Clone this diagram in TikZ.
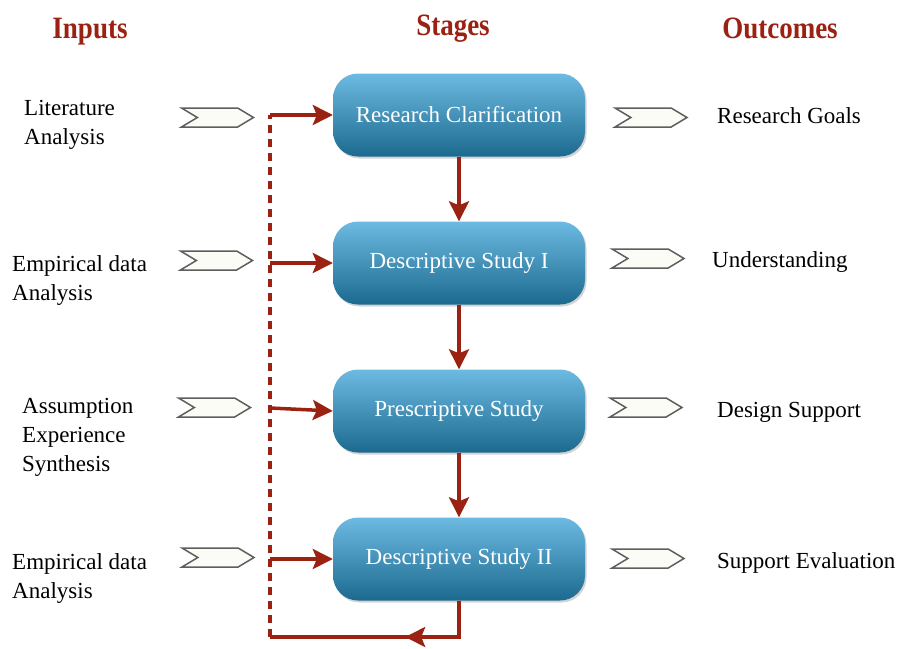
\documentclass[tikz,border=0pt]{standalone}
\usepackage{fontspec}
\setmainfont{Liberation Serif}
\usetikzlibrary{arrows.meta,shapes.symbols,shadows,decorations.markings}

\definecolor{rust}{HTML}{9B2213}
\definecolor{boxtop}{HTML}{6CBAE2}
\definecolor{boxbot}{HTML}{1D6A8F}
\definecolor{chevfill}{HTML}{FCFCF6}
\definecolor{chevline}{HTML}{5E5E5E}

\newcommand{\tallbold}[1]{\scalebox{1}[1.15]{#1}}

\tikzset{
  heading/.style={font=\bfseries\fontsize{27}{30}\selectfont, text=rust, inner sep=0pt, anchor=base},
  label/.style={font=\fontsize{23}{29}\selectfont, align=left, anchor=west, inner sep=0pt},
  stagebox/.style={rounded corners=25pt, minimum width=252pt, minimum height=83pt,
    top color=boxtop, bottom color=boxbot, text=white, inner sep=0pt,
    font=\fontsize{23}{27}\selectfont,
    drop shadow={opacity=0.35, shadow xshift=1.5pt, shadow yshift=-2pt}},
  chev/.style={signal, signal from=west, signal to=east, signal pointer angle=62,
    draw=chevline, fill=chevfill, line width=1.5pt, minimum width=72pt,
    minimum height=19pt, inner sep=0pt},
  tip/.style={-{Stealth[length=20pt,width=20pt,inset=4pt]}},
  flow/.style={draw=rust, line width=3.5pt, tip},
  loop/.style={draw=rust, line width=3.5pt, dash pattern=on 8pt off 6pt},
}

\begin{document}
\begin{tikzpicture}[x=1pt,y=-1pt]
\useasboundingbox (0,0) rectangle (902,648);

% column headings
\node[heading] (hin)  at (90,38)  {\tallbold{Inputs}};
\node[heading] (hst)  at (453,35) {\tallbold{Stages}};
\node[heading] (hout) at (780,38) {\tallbold{Outcomes}};

% stages
\node[stagebox] (s1) at (459,115) {Research Clarification};
\node[stagebox] (s2) at (459,263) {Descriptive Study I};
\node[stagebox] (s3) at (459,411) {Prescriptive Study};
\node[stagebox] (s4) at (459,559) {Descriptive Study II};

% inputs
\node[label] (i1) at (24,125) {Literature\\Analysis};
\node[label] (i2) at (12,280) {Empirical data\\Analysis};
\node[label] (i3) at (22,437) {Assumption\\Experience\\Synthesis};
\node[label] (i4) at (12,578) {Empirical data\\Analysis};

\node[chev] (c1) at (217.5,117.5) {};
\node[chev] (c2) at (216.5,260.5) {};
\node[chev] (c3) at (214.5,407.5) {};
\node[chev] (c4) at (218,557.5) {};

% outcomes
\node[chev] (o1) at (651,117.5) {};
\node[chev] (o2) at (648,258.5) {};
\node[chev] (o3) at (646,407.5) {};
\node[chev] (o4) at (648,558.5) {};

\node[label] (r1) at (717,116) {Research Goals};
\node[label] (r2) at (712,262) {Understanding};
\node[label] (r3) at (717,412) {Design Support};
\node[label] (r4) at (717,563) {Support Evaluation};

% sequence of stages
\draw[flow] (s1.south) -- (s2.north);
\draw[flow] (s2.south) -- (s3.north);
\draw[flow] (s3.south) -- (s4.north);

% iteration loop
\coordinate (t1) at (270,115);
\coordinate (t2) at (270,263);
\coordinate (t3) at (270,408);
\coordinate (t4) at (270,559);
\coordinate (back) at (270,637);

\draw[loop] (back) -- (t1);
\draw[draw=rust, line width=3.5pt, line join=miter,
  postaction={decorate},
  decoration={markings, mark=at position 0.4 with {\arrow{Stealth[length=20pt,width=20pt,inset=4pt]}}}]
  (s4.south) |- (back);

\draw[flow] (t1) -- (s1.west);
\draw[flow] (t2) -- (s2.west);
\draw[flow] (t3) -- (s3.west);
\draw[flow] (t4) -- (s4.west);
\end{tikzpicture}
\end{document}
